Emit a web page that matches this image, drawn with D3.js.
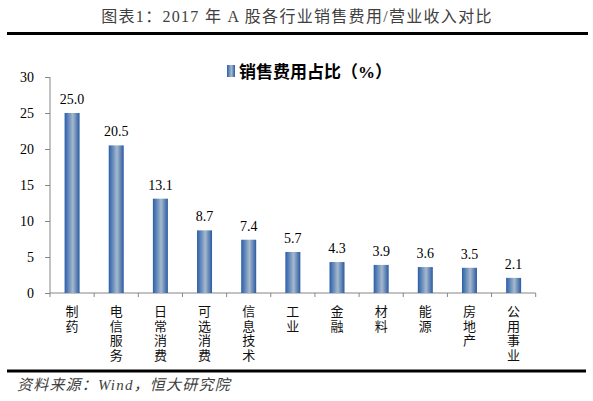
<!DOCTYPE html>
<html><head><meta charset="utf-8">
<script src="https://cdn.jsdelivr.net/npm/d3@7/dist/d3.min.js"></script>
<style>
html,body{margin:0;padding:0;background:#fff;}
svg{display:block;}
</style></head>
<body>
<svg id="c" width="593" height="401"></svg>
<script>
const categories = ["制药","电信服务","日常消费","可选消费","信息技术","工业","金融","材料","能源","房地产","公用事业"];
const values = [25.0,20.5,13.1,8.7,7.4,5.7,4.3,3.9,3.6,3.5,2.1];
const yTicks = [0,5,10,15,20,25,30];
const seriesName = "销售费用占比（%）";
const titleText = "图表1：2017 年 A 股各行业销售费用/营业收入对比";
const sourceText = "资料来源：Wind，恒大研究院";

const svg = d3.select("#c");
const serif = "'Liberation Serif','Times New Roman','Noto Sans CJK SC',serif";
const cjk = "'Liberation Serif','Noto Sans CJK SC',serif";

const defs = svg.append("defs");
const grad = defs.append("linearGradient").attr("id","barg").attr("x1","0").attr("x2","1").attr("y1","0").attr("y2","0");
grad.append("stop").attr("offset","0").attr("stop-color","#2a5ea9");
grad.append("stop").attr("offset","0.55").attr("stop-color","#a5b9cd");
grad.append("stop").attr("offset","1").attr("stop-color","#2a5aa2");

// title
svg.append("text").attr("x",297).attr("y",22).attr("text-anchor","middle")
  .attr("font-family",cjk).attr("font-size",16).attr("letter-spacing",1.3).attr("fill","#404040").text(titleText);
svg.append("line").attr("x1",7).attr("x2",588).attr("y1",33.5).attr("y2",33.5)
  .attr("stroke","#000").attr("stroke-width",3);

const x = d3.scaleBand().domain(categories).range([50,535.7]);
const y = d3.scaleLinear().domain([0,30]).range([293,77]);
const barW = 15;

// y axis
const yAxis = svg.append("g").attr("transform","translate(50,0)")
  .call(d3.axisLeft(y).tickValues(yTicks).tickSize(5).tickPadding(11).tickFormat(d3.format("d")));
yAxis.selectAll("path,line").attr("stroke","#868686");
yAxis.select(".domain").attr("d","M0,77V293");
yAxis.selectAll("text").attr("font-family",serif).attr("font-size",14).attr("fill","#000");

// x axis
const xAxis = svg.append("g").attr("transform","translate(0,293)")
  .call(d3.axisBottom(x).tickSize(0).tickFormat(""));
xAxis.select(".domain").attr("stroke","#868686").attr("d","M50,0H535.7");
const bounds = categories.map((c,i)=>x(c)).concat([x.range()[1]]);
xAxis.selectAll(".btick").data(bounds).enter().append("line")
  .attr("x1",d=>d).attr("x2",d=>d).attr("y1",0).attr("y2",4).attr("stroke","#868686");

// bars
svg.append("g").selectAll("rect").data(values).enter().append("rect")
  .attr("x",(d,i)=>x(categories[i])+x.bandwidth()/2-barW/2)
  .attr("width",barW)
  .attr("y",d=>y(d))
  .attr("height",d=>y(0)-y(d))
  .attr("fill","url(#barg)");

// value labels
svg.append("g").selectAll("text").data(values).enter().append("text")
  .attr("x",(d,i)=>x(categories[i])+x.bandwidth()/2)
  .attr("y",d=>y(d)-9)
  .attr("text-anchor","middle").attr("font-family",serif).attr("font-size",14).attr("fill","#000")
  .text(d=>d.toFixed(1));

// category labels (vertical stacked)
const cl = svg.append("g");
categories.forEach((c,i)=>{
  const cx = x(c)+x.bandwidth()/2;
  Array.from(c).forEach((ch,j)=>{
    cl.append("text").attr("x",cx).attr("y",316+j*14.7).attr("text-anchor","middle")
      .attr("font-family",cjk).attr("font-size",13).attr("fill","#111").text(ch);
  });
});

// legend
svg.append("rect").attr("x",227).attr("y",65).attr("width",8).attr("height",12).attr("fill","url(#barg)");
svg.append("text").attr("x",239).attr("y",78).attr("font-family",cjk).attr("font-size",17)
  .attr("font-weight","bold").attr("fill","#000").text(seriesName);

// bottom rule and source
svg.append("line").attr("x1",7).attr("x2",586).attr("y1",371).attr("y2",371)
  .attr("stroke","#000").attr("stroke-width",3);
svg.append("text").attr("x",17).attr("y",390).attr("font-family",cjk).attr("font-size",15)
  .attr("letter-spacing",1.2).attr("font-style","italic").attr("fill","#404040").text(sourceText);
</script>
</body></html>
